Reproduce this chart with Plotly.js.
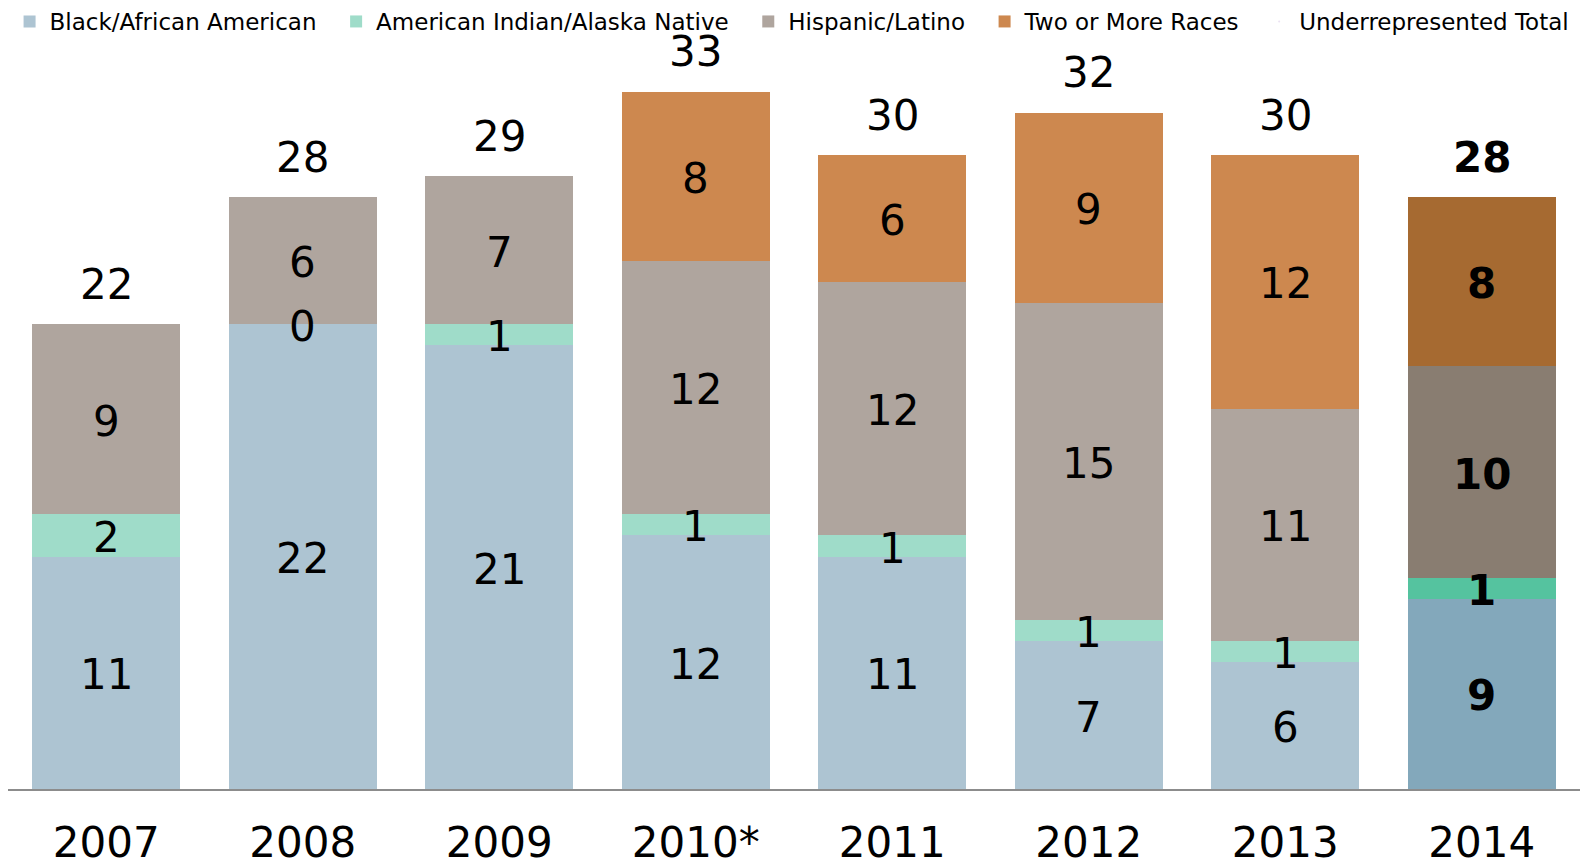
<!DOCTYPE html>
<html>
<head>
<meta charset="utf-8">
<script src="https://cdn.plot.ly/plotly-3.0.1.min.js"></script>
<style>html,body{margin:0;padding:0;background:#fff;}#chart{width:1580px;height:868px;}</style>
</head>
<body>
<div id="chart"></div>
<script>
// ---- data ----
const years = ["2007", "2008", "2009", "2010*", "2011", "2012", "2013", "2014"];
const black = [11, 22, 21, 12, 11, 7, 6, 9];
const aian = [2, 0, 1, 1, 1, 1, 1, 1];
const hispanic = [9, 6, 7, 12, 12, 15, 11, 10];
const twoOrMore = [null, null, null, 8, 6, 9, 12, 8];
const totals = [22, 28, 29, 33, 30, 32, 30, 28];
const seriesNames = ["Black/African American", "American Indian/Alaska Native", "Hispanic/Latino", "Two or More Races", "Underrepresented Total"];

// ---- styles ----
const baseColors = ["#adc4d2", "#9fdcc9", "#afa59e", "#cd884f"];
const hiColors = ["#83a8bb", "#55c39f", "#897d71", "#a66a31"];
const hiIndex = years.length - 1;
const labelFont = "DejaVu Sans, Verdana, sans-serif";
const legendFont = "DejaVu Sans, sans-serif";
const NB = "\u00a0";

const series = [black, aian, hispanic, twoOrMore];
const traces = series.map((vals, i) => ({
  type: "bar",
  name: seriesNames[i] + NB.repeat(2),
  x: years,
  y: vals,
  marker: { color: years.map((_, j) => j === hiIndex ? hiColors[i] : baseColors[i]) },
  hoverinfo: "x+y+name"
}));
traces.push({
  type: "scatter",
  mode: "markers",
  name: seriesNames[4],
  x: years,
  y: totals,
  marker: { opacity: 0, size: 1 },
  hoverinfo: "x+y+name"
});

// ---- labels ----
const annotations = [];
years.forEach((yr, j) => {
  let cum = 0;
  const bold = j === hiIndex;
  series.forEach((vals) => {
    const v = vals[j];
    if (v === null || v === undefined) return;
    annotations.push({
      x: j, y: cum + v / 2, xref: "x", yref: "y",
      text: bold ? "<b>" + v + "</b>" : String(v),
      showarrow: false, yanchor: "middle", yshift: -2,
      font: { family: labelFont, size: 42, color: "#000" }
    });
    cum += v;
  });
  annotations.push({
    x: j, y: totals[j], xref: "x", yref: "y",
    text: bold ? "<b>" + totals[j] + "</b>" : String(totals[j]),
    showarrow: false, yanchor: "middle", yshift: 40,
    font: { family: labelFont, size: 42, color: "#000" }
  });
});

const layout = {
  width: 1580, height: 868,
  margin: { l: 8, r: 0, t: 0, b: 79 },
  barmode: "stack",
  bargap: 0.246,
  paper_bgcolor: "#fff",
  plot_bgcolor: "#fff",
  showlegend: true,
  legend: {
    orientation: "h", x: 0.001, y: 1, xanchor: "left", yanchor: "top",
    font: { family: legendFont, size: 23, color: "#000" },
    traceorder: "normal", itemclick: false, itemdoubleclick: false
  },
  xaxis: {
    type: "category",
    range: [-0.5, years.length - 0.5],
    autorange: false,
    showline: true, linecolor: "#8c8c8c", linewidth: 1.5,
    ticks: "", showgrid: false, zeroline: false,
    tickfont: { family: labelFont, size: 42, color: "#000" },
    ticklabelstandoff: 16
  },
  yaxis: {
    range: [0, 37.34], autorange: false,
    visible: false, showgrid: false, zeroline: false, fixedrange: true
  },
  annotations: annotations
};

Plotly.newPlot("chart", traces, layout, { displayModeBar: false, staticPlot: true });
</script>
</body>
</html>
